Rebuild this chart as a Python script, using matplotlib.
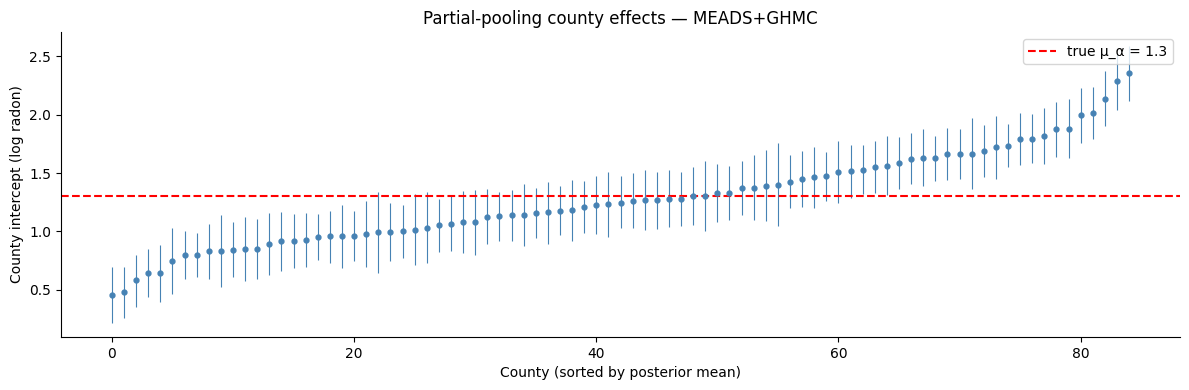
import numpy as np
import matplotlib
matplotlib.use("Agg")
import matplotlib.pyplot as plt

# Posterior means (sorted) and interval bounds per county
means = [0.454, 0.48, 0.583, 0.643, 0.643, 0.746, 0.797, 0.797, 0.831, 0.831,
         0.84, 0.849, 0.849, 0.891, 0.917, 0.917, 0.926, 0.951, 0.96, 0.96,
         0.96, 0.977, 0.994, 0.994, 1.003, 1.011, 1.029, 1.054, 1.063, 1.08,
         1.08, 1.123, 1.131, 1.14, 1.14, 1.157, 1.166, 1.174, 1.183, 1.209,
         1.226, 1.234, 1.243, 1.26, 1.269, 1.269, 1.277, 1.277, 1.303, 1.303,
         1.329, 1.329, 1.371, 1.371, 1.389, 1.397, 1.423, 1.449, 1.466, 1.474,
         1.509, 1.517, 1.526, 1.551, 1.56, 1.586, 1.62, 1.629, 1.629, 1.663,
         1.663, 1.663, 1.689, 1.723, 1.731, 1.791, 1.791, 1.817, 1.877, 1.877,
         1.997, 2.014, 2.134, 2.289, 2.357]
upper = [0.694, 0.694, 0.797, 0.849, 0.883, 1.029, 1.003, 0.986, 1.063, 1.14,
         1.08, 1.123, 1.106, 1.157, 1.166, 1.149, 1.157, 1.149, 1.174, 1.226,
         1.174, 1.26, 1.337, 1.243, 1.226, 1.32, 1.337, 1.277, 1.303, 1.346,
         1.354, 1.363, 1.337, 1.354, 1.406, 1.371, 1.423, 1.389, 1.44, 1.431,
         1.474, 1.509, 1.474, 1.5, 1.526, 1.509, 1.526, 1.509, 1.551, 1.603,
         1.577, 1.56, 1.603, 1.654, 1.697, 1.757, 1.654, 1.689, 1.723, 1.68,
         1.774, 1.74, 1.74, 1.774, 1.817, 1.809, 1.843, 1.877, 1.817, 1.886,
         1.877, 1.971, 1.911, 1.989, 1.92, 2.014, 2.006, 2.057, 2.109, 2.134,
         2.229, 2.237, 2.374, 2.53, 2.59]
lower = [0.214, 0.257, 0.351, 0.437, 0.394, 0.463, 0.591, 0.609, 0.591, 0.523,
         0.609, 0.574, 0.591, 0.626, 0.66, 0.686, 0.694, 0.754, 0.729, 0.686,
         0.746, 0.694, 0.643, 0.746, 0.771, 0.711, 0.729, 0.823, 0.831, 0.814,
         0.797, 0.891, 0.917, 0.917, 0.874, 0.943, 0.891, 0.969, 0.917, 0.986,
         0.977, 0.951, 1.029, 1.029, 1.011, 1.02, 1.037, 1.046, 1.054, 1.003,
         1.08, 1.097, 1.14, 1.097, 1.089, 1.046, 1.2, 1.209, 1.2, 1.26,
         1.243, 1.286, 1.32, 1.329, 1.311, 1.363, 1.406, 1.389, 1.431, 1.44,
         1.449, 1.363, 1.466, 1.449, 1.551, 1.569, 1.586, 1.577, 1.637, 1.629,
         1.757, 1.791, 1.903, 2.04, 2.117]
true_mu_alpha = 1.3

means = np.array(means)
upper = np.array(upper)
lower = np.array(lower)
x = np.arange(len(means))

fig, ax = plt.subplots(figsize=(11.89, 3.9), dpi=100)
fig.subplots_adjust(left=61/1189, right=1180/1189, top=1-32/390, bottom=1-337/390)
ax.errorbar(x, means, yerr=[means - lower, upper - means], fmt='o', ms=3.5,
            color='steelblue', ecolor='steelblue', elinewidth=0.8, capsize=0)
ax.axhline(true_mu_alpha, color='red', linestyle='--', linewidth=1.5,
           label='true μ_α = 1.3')
ax.set_title('Partial-pooling county effects — MEADS+GHMC')
ax.set_xlabel('County (sorted by posterior mean)')
ax.set_ylabel('County intercept (log radon)')
ax.legend(loc='upper right')
ax.spines['top'].set_visible(False)
ax.spines['right'].set_visible(False)
fig.savefig('out.png', dpi=100)
